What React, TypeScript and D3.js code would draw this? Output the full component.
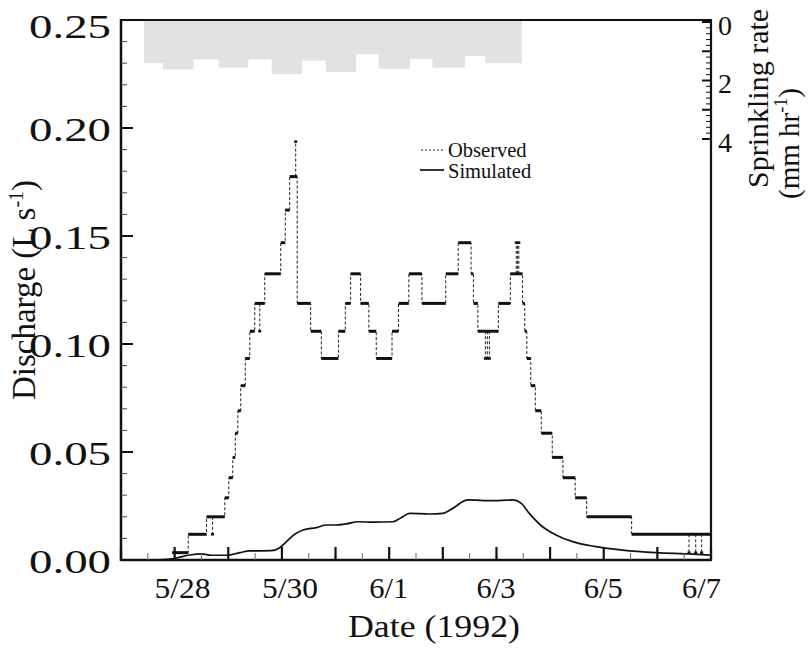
import React from "react";
import * as d3 from "d3";

const W = 809;
const H = 648;
const X0 = 121, X1 = 711, Y0 = 560, Y1 = 20;

// time in days since 5/27 00:00
const dateLabels = ["5/28", "5/30", "6/1", "6/3", "6/5", "6/7"];
const dateLabelDays = [1, 3, 5, 7, 9, 11];
const dischargeTicks = [0, 0.05, 0.1, 0.15, 0.2, 0.25];
const rateTicks = [0, 2, 4];

// observed discharge, step series (value holds until next time)
const obsTime = [0.955, 1.253, 1.595, 1.936, 2.010, 2.084, 2.131, 2.178, 2.233, 2.317, 2.401, 2.494, 2.680, 2.978, 3.062, 3.145, 3.285, 3.536, 3.735, 4.054, 4.182, 4.281, 4.467, 4.621, 4.759, 5.053, 5.174, 5.366, 5.611, 6.054, 6.287, 6.527, 6.570, 6.654, 7.035, 7.259, 7.487, 7.528, 7.566, 7.640, 7.724, 7.836, 8.040, 8.239, 8.468, 8.682, 9.520, 10.981];
const obsValue = [0.0034, 0.0119, 0.0200, 0.0288, 0.0381, 0.0475, 0.0587, 0.0691, 0.0807, 0.0933, 0.1059, 0.1188, 0.1325, 0.1469, 0.1620, 0.1775, 0.1188, 0.1059, 0.0933, 0.1059, 0.1188, 0.1325, 0.1188, 0.1059, 0.0933, 0.1059, 0.1188, 0.1325, 0.1188, 0.1325, 0.1469, 0.1325, 0.1188, 0.1059, 0.1188, 0.1325, 0.1188, 0.1059, 0.0933, 0.0807, 0.0691, 0.0587, 0.0475, 0.0381, 0.0288, 0.0200, 0.0119, 0.0119];

// brief observed excursions (spikes / dips)
const spikeTime = [1.707, 2.587, 3.257, 6.793, 6.830, 6.868, 7.370, 7.394, 7.417, 10.590, 10.715, 10.826];
const spikeValue = [0.0119, 0.1059, 0.1937, 0.0933, 0.0933, 0.0933, 0.1469, 0.1469, 0.1469, 0.0034, 0.0034, 0.0034];

// simulated discharge
const simTime = [0.664, 1.005, 1.284, 1.502, 1.688, 1.978, 2.215, 2.401, 2.805, 2.959, 3.084, 3.238, 3.393, 3.642, 3.828, 4.015, 4.201, 4.417, 4.696, 5.068, 5.224, 5.379, 5.751, 5.999, 6.185, 6.464, 6.929, 7.301, 7.458, 7.612, 7.860, 8.109, 8.418, 8.854, 9.349, 9.970, 10.590, 10.981];
const simValue = [0, 0.0008, 0.0023, 0.0028, 0.0022, 0.0022, 0.0034, 0.0042, 0.0043, 0.0057, 0.0085, 0.0119, 0.0139, 0.0150, 0.0162, 0.0162, 0.0167, 0.0177, 0.0175, 0.0177, 0.0196, 0.0216, 0.0213, 0.0216, 0.0239, 0.0278, 0.0275, 0.0278, 0.0263, 0.0216, 0.0154, 0.0116, 0.0085, 0.0062, 0.0046, 0.0034, 0.0028, 0.0023];

// sprinkling rate (mm/hr), intervals between edges
const sprEdges = [0.428, 0.782, 1.340, 1.824, 2.364, 2.810, 3.369, 3.815, 4.374, 4.802, 5.379, 5.807, 6.402, 6.793, 7.463];
const sprRate = [1.41, 1.62, 1.28, 1.56, 1.28, 1.78, 1.32, 1.71, 1.10, 1.60, 1.26, 1.56, 1.16, 1.41];

const FONT = "'Liberation Serif', 'Times New Roman', serif";

export default function App() {
  const x = d3.scaleLinear().domain([0, 11]).range([X0, X1]);
  const y = d3.scaleLinear().domain([0, 0.25]).range([Y0, Y1]);
  const r = d3.scaleLinear().domain([0, 4]).range([22, 139]);

  const obsPts: [number, number][] = obsTime.map((t, i) => [t, obsValue[i]]);
  const stepLine = d3
    .line<[number, number]>()
    .x((d) => x(d[0]))
    .y((d) => y(d[1]))
    .curve(d3.curveStepAfter);

  const simPts: [number, number][] = simTime.map((t, i) => [t, simValue[i]]);
  const simLine = d3
    .line<[number, number]>()
    .x((d) => x(d[0]))
    .y((d) => y(d[1]))
    .curve(d3.curveMonotoneX);

  const levelAt = (t: number) => {
    let v = obsValue[0];
    for (let i = 0; i < obsTime.length; i++) if (obsTime[i] <= t) v = obsValue[i];
    return v;
  };

  const leftMinor = d3.range(0, 26).map((i) => i * 0.01);
  const bottomMinor = d3.range(0, 23).map((i) => i * 0.5);
  const rightMinor = d3.range(0, 21).map((i) => i * 0.2);

  return (
    <svg width={W} height={H} style={{ display: "block", position: "absolute", left: 0, top: 0 }} fontFamily={FONT}>
      <rect x={0} y={0} width={W} height={H} fill="#fff" />
      {/* sprinkling bars */}
      {sprRate.map((v, i) => (
        <rect
          key={"s" + i}
          x={x(sprEdges[i])}
          y={Y1}
          width={x(sprEdges[i + 1]) - x(sprEdges[i]) + 0.5}
          height={r(v) - Y1}
          fill="#e1e2e4"
        />
      ))}

      {/* simulated */}
      <path d={simLine(simPts) || ""} fill="none" stroke="#111" strokeWidth={1.7} />

      {/* observed dashed step */}
      <path d={stepLine(obsPts) || ""} fill="none" stroke="#222" strokeWidth={1} strokeDasharray="3,2" />
      {spikeTime.map((t, i) => (
        <line
          key={"sp" + i}
          x1={x(t)}
          x2={x(t)}
          y1={y(levelAt(t))}
          y2={y(spikeValue[i])}
          stroke="#222"
          strokeWidth={1}
          strokeDasharray="3,2"
        />
      ))}
      {spikeTime.map((t, i) => (
        <line key={"spc" + i} x1={x(t) - 1.5} x2={x(t) + 1.5} y1={y(spikeValue[i])} y2={y(spikeValue[i])} stroke="#111" strokeWidth={2.5} />
      ))}
      {obsTime.slice(0, -1).map((t, i) => (
        <line key={"h" + i} x1={x(t)} x2={x(obsTime[i + 1])} y1={y(obsValue[i])} y2={y(obsValue[i])} stroke="#111" strokeWidth={3} />
      ))}

      {/* frame */}
      <line x1={X0} x2={X1} y1={Y1} y2={Y1} stroke="#111" strokeWidth={2} />
      <line x1={X0} x2={X1} y1={Y0} y2={Y0} stroke="#111" strokeWidth={2.5} />
      <line x1={X0} x2={X0} y1={Y1 - 1} y2={Y0 + 1} stroke="#111" strokeWidth={2.5} />
      <line x1={X1} x2={X1} y1={Y1 - 1} y2={Y0 + 1} stroke="#111" strokeWidth={2.2} />

      {/* left ticks */}
      {leftMinor.map((v, i) => {
        const major = i % 5 === 0;
        return (
          <line key={"lt" + i} x1={X0} x2={X0 + (major ? 12 : 6)} y1={y(v)} y2={y(v)} stroke={major ? "#111" : "#444"} strokeWidth={major ? 2 : 1} />
        );
      })}
      {dischargeTicks.map((v, i) => (
        <text
          key={"ll" + i}
          x={111}
          y={y(v) + (i === dischargeTicks.length - 1 ? 6 : 1)}
          dy="0.35em"
          textAnchor="end"
          fontSize={33}
          fill="#111"
          textLength={82}
          lengthAdjust="spacingAndGlyphs"
        >
          {v.toFixed(2)}
        </text>
      ))}

      {/* bottom ticks */}
      {bottomMinor.map((t, i) => {
        const major = i % 2 === 0;
        return (
          <line key={"bt" + i} x1={x(t)} x2={x(t)} y1={Y0} y2={Y0 - (major ? 13 : 7)} stroke={major ? "#111" : "#666"} strokeWidth={major ? 2.2 : 1} />
        );
      })}
      {dateLabels.map((s, i) => (
        <text
          key={"bl" + i}
          x={x(dateLabelDays[i]) + (i === dateLabels.length - 1 ? -29 : -20)}
          y={598}
          textAnchor="start"
          fontSize={30}
          fill="#111"
          textLength={s.length === 4 ? 56 : 39}
          lengthAdjust="spacingAndGlyphs"
        >
          {s}
        </text>
      ))}

      {/* right ticks */}
      {rightMinor.map((v, i) => {
        const major = i % 5 === 0;
        return (
          <line key={"rt" + i} x1={X1} x2={X1 - (major ? 9 : 5)} y1={r(v)} y2={r(v)} stroke="#111" strokeWidth={major ? 2 : 1} />
        );
      })}
      {rateTicks.map((v, i) => (
        <text key={"rl" + i} x={718} y={r(v) + 3} dy="0.35em" textAnchor="start" fontSize={28} fill="#111">
          {v}
        </text>
      ))}

      {/* axis titles */}
      <text transform={`translate(35, ${(Y0 + Y1) / 2}) rotate(-90)`} textAnchor="middle" fontSize={33} fill="#111">
        Discharge (L s<tspan fontSize={20} dy={-12}>-1</tspan><tspan dy={12}>)</tspan>
      </text>
      <text x={434} y={637} textAnchor="middle" fontSize={32} fill="#111" textLength={172} lengthAdjust="spacingAndGlyphs">
        Date (1992)
      </text>
      <text transform={`translate(768, 188) rotate(-90)`} textAnchor="start" fontSize={30} fill="#111">
        Sprinkling rate
      </text>
      <text transform={`translate(799, 199) rotate(-90)`} textAnchor="start" fontSize={29} fill="#111">
        (mm hr<tspan fontSize={18} dy={-12}>-1</tspan><tspan dy={12}>)</tspan>
      </text>

      {/* legend */}
      <line x1={421} x2={444} y1={150} y2={150} stroke="#222" strokeWidth={1} strokeDasharray="2,2" />
      <text x={448} y={157} fontSize={20.5} fill="#111">Observed</text>
      <line x1={420} x2={444} y1={170} y2={170} stroke="#111" strokeWidth={1.7} />
      <text x={448} y={178} fontSize={20.5} fill="#111">Simulated</text>
    </svg>
  );
}
